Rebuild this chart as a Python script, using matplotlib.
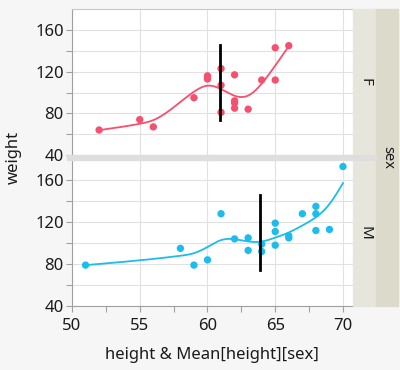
"""Weight vs height by sex, with smoother and mean height lines."""

import matplotlib
matplotlib.use("Agg")
import matplotlib.pyplot as plt
import numpy as np
from matplotlib.patches import Rectangle

# %% data
f_height = [52, 55, 56, 59, 60, 60, 61, 61, 61, 62, 62, 62, 62, 63, 64, 65, 65, 66]
f_weight = [64, 74, 67, 95, 116, 113, 123, 107, 81, 117, 92, 90, 85, 84, 112, 143, 112, 145]

m_height = [51, 58, 59, 60, 61, 62, 63, 63, 64, 64, 65, 65, 65, 66, 66, 67, 68, 68, 68, 69, 70]
m_weight = [79, 95, 79, 84, 128, 104, 105, 93, 99, 92, 119, 111, 98, 107, 105, 128, 135, 128, 112, 113, 173]

mean_span = (74, 146)  # vertical extent of the mean-height marker
panels = ["F", "M"]
colors = {"F": "#F5506E", "M": "#1CBCEC"}

plt.rcParams["font.family"] = ["Noto Sans", "DejaVu Sans"]

W, H = 400, 370


def smooth(x, y, lam=0.02, n=300):
    """Penalised cubic smoothing spline on a fine grid (x standardised)."""
    x = np.asarray(x, float)
    y = np.asarray(y, float)
    xs = (x - x.mean()) / x.std()
    g = np.linspace(xs.min(), xs.max(), n)
    h = g[1] - g[0]
    B = np.zeros((len(x), n))
    for i, v in enumerate(xs):
        j = min(int((v - g[0]) / h), n - 2)
        t = (v - g[j]) / h
        B[i, j] += 1 - t
        B[i, j + 1] += t
    D = np.diff(np.eye(n), 2, axis=0)
    A = B.T @ B + lam * D.T @ D / h**3
    z = np.linalg.solve(A, B.T @ y)
    return g * x.std() + x.mean(), z


def rect_px(x0, y0, x1, y1):
    # pixel box (top-left origin) -> figure fraction
    return [x0 / W, 1 - y1 / H, (x1 - x0) / W, (y1 - y0) / H]


fig = plt.figure(figsize=(4.0, 3.7), dpi=100)
fig.patch.set_facecolor("#F6F6F6")

# strips on the right
fig.patches.append(Rectangle((353 / W, 1 - 306 / H), 23 / W, 297 / H,
                             transform=fig.transFigure, color="#E7E6DD", zorder=0))
fig.patches.append(Rectangle((376 / W, 1 - 306 / H), 22 / W, 297 / H,
                             transform=fig.transFigure, color="#DCDACB", zorder=0))
# separator band between panels
fig.patches.append(Rectangle((67 / W, 1 - 160 / H), 309 / W, 5 / H,
                             transform=fig.transFigure, color="#DEDEDE", zorder=3))

boxes = {"F": (72, 9, 353, 155), "M": (72, 159, 353, 306)}
data = {"F": (f_height, f_weight), "M": (m_height, m_weight)}

for key in panels:
    ax = fig.add_axes(rect_px(*boxes[key]))
    hx, wy = data[key]
    ax.set_facecolor("white")
    ax.set_xlim(50, 70.74)
    ax.set_ylim(40, 180.2)
    ax.set_xticks([50, 55, 60, 65, 70])
    ax.set_xticks([52.5, 57.5, 62.5, 67.5], minor=True)
    ax.set_yticks([40, 80, 120, 160])
    ax.set_yticks([60, 100, 140], minor=True)
    ax.grid(True, which="both", axis="y", color="#E1E1E1", lw=0.8)
    ax.grid(True, which="major", axis="x", color="#E1E1E1", lw=0.8)
    ax.set_axisbelow(True)
    ax.spines["right"].set_visible(False)
    ax.spines["top"].set_color("#C8C8C8")
    ax.spines["left"].set_color("#A0A0A0")
    ax.spines["bottom"].set_color("#A0A0A0")
    ax.tick_params(which="both", color="#A0A0A0", length=4, width=0.8,
                   labelsize=12, labelcolor="#1A1A1A", pad=2)
    ax.tick_params(axis="x", pad=5)
    if key == "F":
        ax.tick_params(axis="x", which="both", bottom=False, labelbottom=False)
        ax.spines["bottom"].set_visible(False)
    else:
        ax.spines["top"].set_visible(False)

    gx, gz = smooth(hx, wy)
    ax.plot(gx, gz, color=colors[key], lw=1.3, zorder=3)
    ax.scatter(hx, wy, s=28, color=colors[key], edgecolors="none", zorder=4)
    mh = np.mean(hx)
    ax.plot([mh, mh], mean_span, color="black", lw=2.0, zorder=5)

    yc = (boxes[key][1] + boxes[key][3]) / 2
    fig.text(365 / W, 1 - yc / H, key, rotation=-90, ha="center", va="center",
             fontsize=11, color="#1A1A1A")

fig.text(388 / W, 1 - 157 / H, "sex", rotation=-90, ha="center", va="center",
         fontsize=10.5, color="#1A1A1A")
fig.text(14 / W, 1 - 157 / H, "weight", rotation=90, ha="center", va="center",
         fontsize=12, color="#1A1A1A")
fig.text(212 / W, 1 - 355 / H, "height & Mean[height][sex]", ha="center",
         va="center", fontsize=12, color="#1A1A1A")

fig.savefig("out.png", dpi=100, facecolor=fig.get_facecolor())
